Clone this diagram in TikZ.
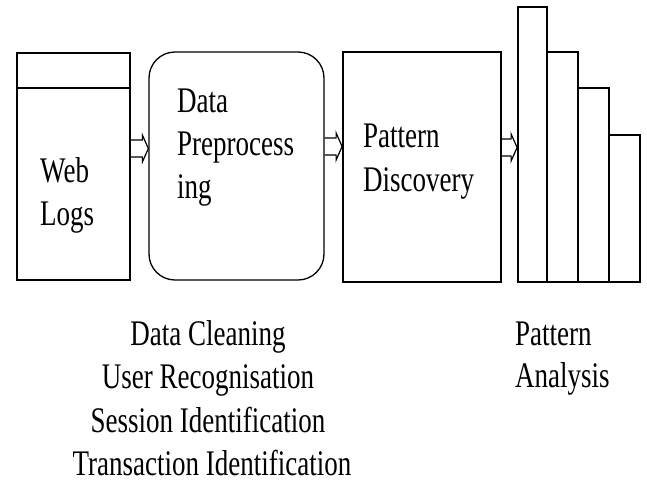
\documentclass[tikz,border=0pt]{standalone}
\usepackage{fontspec}
\setmainfont{Liberation Serif}[FakeStretch=0.75]
\usetikzlibrary{calc}
\begin{document}
\begin{tikzpicture}[x=1pt,y=-1pt,
  box/.style={draw, line width=1.8pt, inner sep=0pt},
  rbox/.style={draw, line width=1.3pt, rounded corners=26pt, inner sep=0pt},
  lbl/.style={anchor=base west, inner sep=0pt, font=\fontsize{36}{44}\selectfont},
  clbl/.style={anchor=base, inner sep=0pt, font=\fontsize{36}{44}\selectfont},
  blockarrow/.style={draw, line width=1.2pt, to path={
    let \p1=(\tikztostart), \p2=(\tikztotarget) in
    (\x1,\y1+8.5pt) -- (\x2-6pt,\y1+8.5pt) -- (\x2-6pt,\y1+13.5pt) -- (\x2,\y1)
    -- (\x2-6pt,\y1-13.5pt) -- (\x2-6pt,\y1-8.5pt) -- (\x1,\y1-8.5pt)}}
]
\useasboundingbox (0,0) rectangle (647,482);
% Web logs box
\coordinate (wlhl) at (17,88);
\coordinate (wlhr) at (130,88);
\draw[line width=1.8pt] (wlhl) -- (wlhr);
\node[box, minimum width=113pt, minimum height=227pt] (wl) at (73.5,166.5) {};
% Data preprocessing
\node[rbox, minimum width=175pt, minimum height=228pt] (dp) at (236.5,166) {};
% Pattern discovery
\node[box, minimum width=158pt, minimum height=230pt] (pd) at (422,167) {};
% Bars
\node[box, minimum width=29pt, minimum height=275pt] (b1) at (532.5,144.5) {};
\node[box, minimum width=31pt, minimum height=230pt] (b2) at (562.5,167) {};
\node[box, minimum width=31pt, minimum height=194pt] (b3) at (593.5,185) {};
\node[box, minimum width=31pt, minimum height=147pt] (b4) at (624.5,208.5) {};
% Arrows
\coordinate (a1s) at (wl.east |- 0,148.5);
\coordinate (a1e) at (dp.west |- 0,148.5);
\coordinate (a2s) at (dp.east |- 0,146.5);
\coordinate (a2e) at (pd.west |- 0,146.5);
\coordinate (a3s) at (pd.east |- 0,147.5);
\coordinate (a3e) at (b1.west |- 0,147.5);
\draw[blockarrow] (a1s) to (a1e);
\draw[blockarrow] (a2s) to (a2e);
\draw[blockarrow] (a3s) to (a3e);
% Texts
\node[lbl] (t1) at (40,182) {Web};
\node[lbl] (t2) at (40,225) {Logs};
\node[lbl] (t3) at (177,112) {Data};
\node[lbl] (t4) at (177,155) {Preprocess};
\node[lbl] (t5) at (177,198) {ing};
\node[lbl] (t6) at (363,147) {Pattern};
\node[lbl] (t7) at (363,191) {Discovery};
\node[lbl] (t8) at (515,345) {Pattern};
\node[lbl] (t9) at (515,387) {Analysis};
\node[clbl] (c1) at (208,345) {Data Cleaning};
\node[clbl] (c2) at (208,388) {User Recognisation};
\node[clbl] (c3) at (208,432) {Session Identification};
\node[clbl] (c4) at (212,475) {Transaction Identification};
\end{tikzpicture}
\end{document}
